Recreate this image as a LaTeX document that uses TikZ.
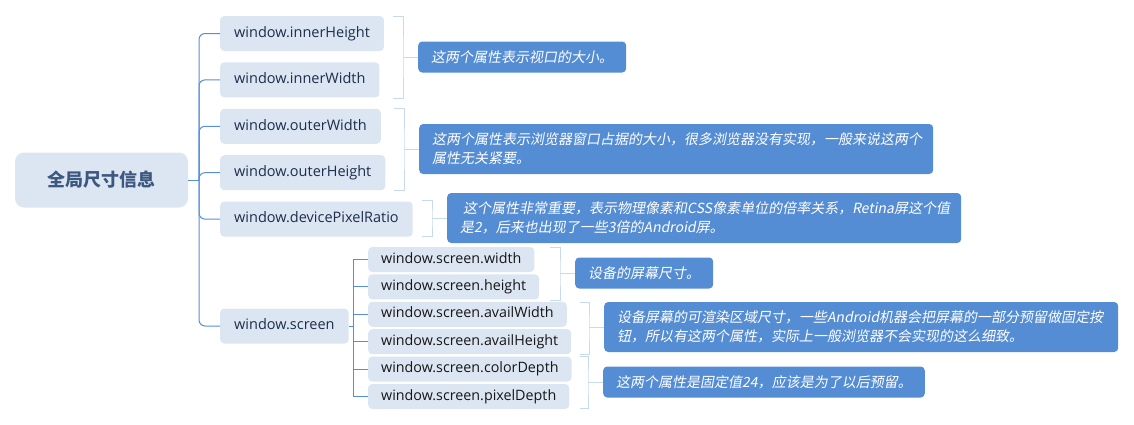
\documentclass[tikz,border=0pt]{standalone}
\usepackage{fontspec}
\usepackage{tikz}
\usetikzlibrary{positioning}
\setmainfont{Open Sans}
\newfontfamily\cjk{Noto Sans CJK SC}
\newfontfamily\cjkit[FakeSlant=0.18]{Noto Sans CJK SC}
\definecolor{nodefill}{RGB}{220,230,242}
\definecolor{notefill}{RGB}{85,141,212}
\definecolor{linkblue}{RGB}{86,143,214}
\definecolor{brkblue}{RGB}{200,218,240}
\definecolor{roottext}{RGB}{60,88,128}
\definecolor{lvltext}{RGB}{28,46,76}
\definecolor{subtext}{RGB}{22,22,22}

\begin{document}
\begin{tikzpicture}[x=1pt,y=-1pt,
	root/.style={fill=nodefill,rounded corners=9pt,minimum width=173pt,minimum height=55pt,text=roottext,font=\cjk\bfseries\fontsize{18}{20}\selectfont},
	box/.style={fill=nodefill,rounded corners=4pt,anchor=west,inner xsep=14pt,inner ysep=0pt,minimum height=35pt,text height=10.5pt,text depth=3pt,text=lvltext,font=\fontsize{14.5}{16}\selectfont},
	subbox/.style={box,inner xsep=13pt,minimum height=25pt,text height=10pt,text=subtext,font=\fontsize{14.3}{16}\selectfont},
	note/.style={fill=notefill,rounded corners=4pt,anchor=west,inner xsep=13pt,inner ysep=0pt,minimum height=31pt,text=white,align=left,font=\cjkit\fontsize{14}{19}\selectfont},
	longnote/.style={note,minimum height=50pt,text width=488pt},
	conn/.style={draw=linkblue,line width=1pt},
	branch/.style={rounded corners=6pt,to path={|- (\tikztotarget)}},
	sqbranch/.style={to path={|- (\tikztotarget)}},
	brk/.style={draw=brkblue,line width=1pt}]
	\useasboundingbox (0,0) rectangle (1134,424);

	\node[root] (root) at (101.5,180) {全局尺寸信息};

	\node[box] (ih) at (220,33.5) {window.innerHeight};
	\node[box] (iw) [below=11pt of ih.south west,anchor=north west] {window.innerWidth};
	\node[box] (ow) [below=11pt of iw.south west,anchor=north west] {window.outerWidth};
	\node[box] (oh) [below=11pt of ow.south west,anchor=north west] {window.outerHeight};
	\node[box] (dpr) [below=11pt of oh.south west,anchor=north west] {window.devicePixelRatio};
	\node[box] (scr) at (220,326) {window.screen};

	\node[subbox] (sw) at (368,259.5) {window.screen.width};
	\node[subbox] (sh) [below=2pt of sw.south west,anchor=north west] {window.screen.height};
	\node[subbox] (saw) [below=2pt of sh.south west,anchor=north west] {window.screen.availWidth};
	\node[subbox] (sah) [below=2pt of saw.south west,anchor=north west] {window.screen.availHeight};
	\node[subbox] (scd) [below=2pt of sah.south west,anchor=north west] {window.screen.colorDepth};
	\node[subbox] (spd) [below=2pt of scd.south west,anchor=north west] {window.screen.pixelDepth};

	\coordinate (t1) at (199,180);
	\coordinate (t2) at (353,326);
	\draw[conn] (root) -- (t1);
	\path[conn] (t1) edge[branch] (ih.west)
		(t1) edge[branch] (iw.west)
		(t1) edge[branch] (ow.west)
		(t1) edge[branch] (oh.west)
		(t1) edge[branch] (dpr.west)
		(t1) edge[branch] (scr.west);
	\draw[conn] (scr) -- (t2);
	\path[conn] (t2) edge[sqbranch] (sw.west)
		(t2) edge[sqbranch] (sh.west)
		(t2) edge[sqbranch] (saw.west)
		(t2) edge[sqbranch] (sah.west)
		(t2) edge[sqbranch] (scd.west)
		(t2) edge[sqbranch] (spd.west);

	\coordinate (b1) at (403,57);
	\coordinate (b2) at (404,149);
	\coordinate (b3) at (432,218);
	\coordinate (b4) at (560,273);
	\coordinate (b5) at (589,327);
	\coordinate (b6) at (588,382);

	\node[note] (n1) [right=15pt of b1] {这两个属性表示视口的大小。};
	\node[longnote] (n2) [right=15pt of b2] {这两个属性表示浏览器窗口占据的大小，很多浏览器没有实现，一般来说这两个\\属性无关紧要。};
	\node[longnote] (n3) [right=15pt of b3] {\hspace*{3pt}这个属性非常重要，表示物理像素和CSS像素单位的倍率关系，Retina屏这个值\\是2，后来也出现了一些3倍的Android屏。};
	\node[note] (n4) [right=15pt of b4] {设备的屏幕尺寸。};
	\node[longnote] (n5) [right=15pt of b5] {设备屏幕的可渲染区域尺寸，一些Android机器会把屏幕的一部分预留做固定按\\钮，所以有这两个属性，实际上一般浏览器不会实现的这么细致。};
	\node[note] (n6) [right=15pt of b6] {这两个属性是固定值24，应该是为了以后预留。};

	\draw[brk] (393,16) -| (b1) |- (393,98);
	\draw[brk] (394,108) -| (b2) |- (394,190);
	\draw[brk] (422,200) -| (b3) |- (422,236);
	\draw[brk] (550,247) -| (b4) |- (550,300);
	\draw[brk] (580,302) -| (b5) |- (580,354);
	\draw[brk] (580,356) -| (b6) |- (580,408);
	\path[brk] (b1) edge (n1)
		(b2) edge (n2)
		(b3) edge (n3)
		(b4) edge (n4)
		(b5) edge (n5)
		(b6) edge (n6);
\end{tikzpicture}
\end{document}
